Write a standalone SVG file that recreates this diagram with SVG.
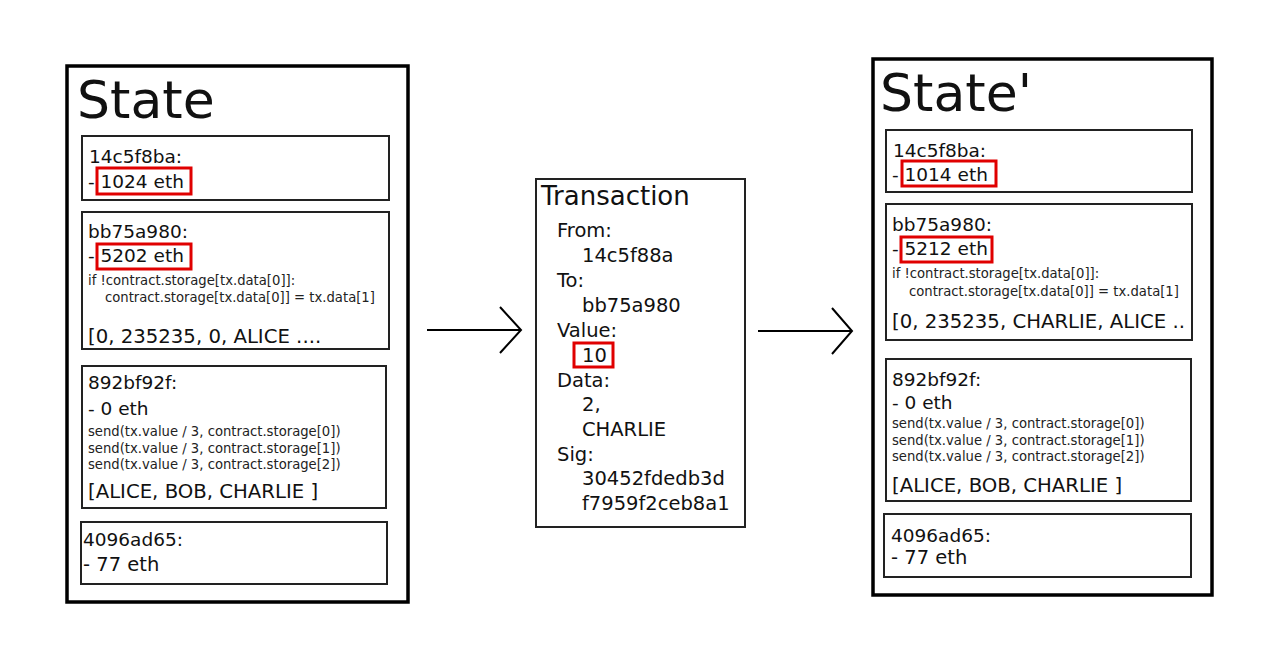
<svg xmlns="http://www.w3.org/2000/svg" width="1280" height="658" viewBox="0 0 1280 658">
<style>
.outer{fill:#fff;stroke:#000;stroke-width:3.5}
.box{fill:#fff;stroke:#222;stroke-width:2}
.hl{fill:none;stroke:#e00000;stroke-width:3}
text{font-family:"DejaVu Sans",sans-serif;fill:#111}
.t{font-size:18.5px}
.b{font-size:19.7px}
.x{font-size:19.5px}
.s{font-size:13.2px;fill:#222}
.big{font-size:52px}
.conn{fill:none;stroke:#000;stroke-width:2}
</style>
<rect width="1280" height="658" fill="#fff"/>
<g id="state">
<rect class="outer" x="67" y="66" width="341" height="536"/>
<text class="big" x="77" y="118">State</text>
<g id="s-14c5f8ba">
<rect class="box" x="82" y="136" width="307" height="64"/>
<text class="t" x="89" y="163">14c5f8ba:</text>
<text class="t" x="88" y="188">- 1024 eth</text>
<rect class="hl" x="97" y="168" width="94" height="26"/>
</g>
<g id="s-bb75a980">
<rect class="box" x="82" y="212" width="307" height="137"/>
<text class="t" x="88" y="238">bb75a980:</text>
<text class="t" x="88" y="262">- 5202 eth</text>
<rect class="hl" x="97" y="244" width="94" height="25"/>
<text class="s" x="88" y="285">if !contract.storage[tx.data[0]]:</text>
<text class="s" x="105" y="302">contract.storage[tx.data[0]] = tx.data[1]</text>
<text class="b" x="88" y="343">[0, 235235, 0, ALICE ....</text>
</g>
<g id="s-892bf92f">
<rect class="box" x="82" y="366" width="304" height="142"/>
<text class="t" x="88" y="389">892bf92f:</text>
<text class="t" x="88" y="415">- 0 eth</text>
<text class="s" x="88" y="436">send(tx.value / 3, contract.storage[0])</text>
<text class="s" x="88" y="453">send(tx.value / 3, contract.storage[1])</text>
<text class="s" x="88" y="469">send(tx.value / 3, contract.storage[2])</text>
<text class="b" x="88" y="498">[ALICE, BOB, CHARLIE ]</text>
</g>
<g id="s-4096ad65">
<rect class="box" x="81" y="522" width="306" height="62"/>
<text class="t" x="83" y="546">4096ad65:</text>
<text class="x" x="83" y="571">- 77 eth</text>
</g>
</g>
<g id="transaction">
<rect class="box" x="536" y="179" width="209" height="348"/>
<text x="541" y="205" font-size="26">Transaction</text>
<text class="x" x="557" y="237">From:</text>
<text class="x" x="582" y="262">14c5f88a</text>
<text class="x" x="557" y="287">To:</text>
<text class="x" x="582" y="312">bb75a980</text>
<text class="x" x="557" y="337">Value:</text>
<text class="x" x="582" y="362">10</text>
<rect class="hl" x="574" y="343" width="39" height="24"/>
<text class="x" x="557" y="387">Data:</text>
<text class="x" x="582" y="411">2,</text>
<text class="x" x="582" y="436">CHARLIE</text>
<text class="x" x="557" y="461">Sig:</text>
<text class="x" x="582" y="485">30452fdedb3d</text>
<text class="x" x="582" y="510">f7959f2ceb8a1</text>
</g>
<g id="state2">
<rect class="outer" x="873" y="59" width="339" height="536"/>
<text class="big" x="880" y="111">State'</text>
<g id="s2-14c5f8ba">
<rect class="box" x="886" y="130" width="306" height="62"/>
<text class="t" x="893" y="157">14c5f8ba:</text>
<text class="t" x="892" y="181">- 1014 eth</text>
<rect class="hl" x="902" y="161" width="94" height="25"/>
</g>
<g id="s2-bb75a980">
<rect class="box" x="886" y="204" width="306" height="136"/>
<text class="t" x="892" y="231">bb75a980:</text>
<text class="t" x="892" y="255">- 5212 eth</text>
<rect class="hl" x="901" y="237" width="91" height="25"/>
<text class="s" x="892" y="278">if !contract.storage[tx.data[0]]:</text>
<text class="s" x="909" y="296">contract.storage[tx.data[0]] = tx.data[1]</text>
<text class="b" x="892" y="328">[0, 235235, CHARLIE, ALICE ..</text>
</g>
<g id="s2-892bf92f">
<rect class="box" x="886" y="359" width="305" height="142"/>
<text class="t" x="892" y="386">892bf92f:</text>
<text class="t" x="892" y="409">- 0 eth</text>
<text class="s" x="892" y="428">send(tx.value / 3, contract.storage[0])</text>
<text class="s" x="892" y="445">send(tx.value / 3, contract.storage[1])</text>
<text class="s" x="892" y="461">send(tx.value / 3, contract.storage[2])</text>
<text class="b" x="892" y="492">[ALICE, BOB, CHARLIE ]</text>
</g>
<g id="s2-4096ad65">
<rect class="box" x="884" y="514" width="307" height="63"/>
<text class="t" x="891" y="542">4096ad65:</text>
<text class="x" x="891" y="564">- 77 eth</text>
</g>
</g>
<g id="connectors">
<path class="conn" d="M427 330 H521 M500 307 L521 330 L500 353"/>
<path class="conn" d="M758 331 H852 M832 308 L852 331 L832 354"/>
</g>
</svg>
